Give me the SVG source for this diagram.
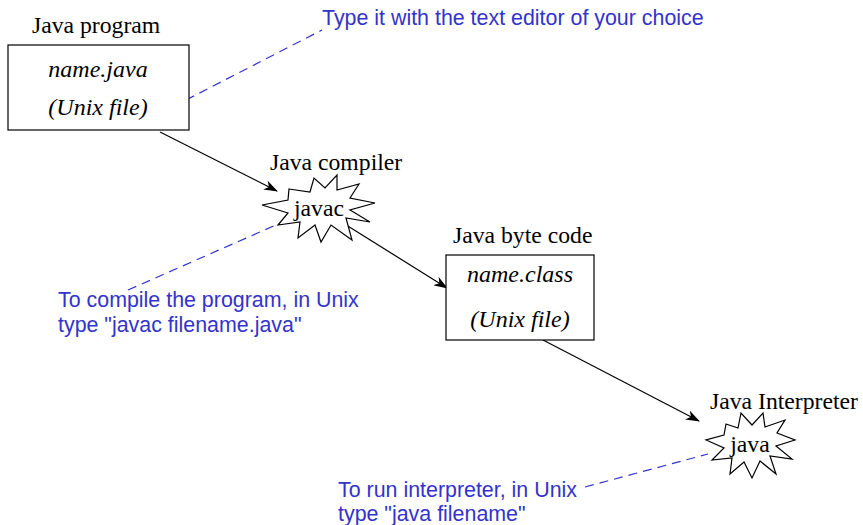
<svg xmlns="http://www.w3.org/2000/svg" width="863" height="525" viewBox="0 0 863 525">
<style>
.lbl{font-family:"Liberation Serif",serif;font-size:23.7px;fill:#000}
.it{font-family:"Liberation Serif",serif;font-size:24px;font-style:italic;fill:#000}
.note{font-family:"Liberation Sans",Arial,sans-serif;font-size:21.4px;fill:#3333cc}
.box{fill:#fff;stroke:#000;stroke-width:1.2}
.star{fill:#fff;stroke:#000;stroke-width:1.2;stroke-linejoin:miter}
.conn{stroke:#000;stroke-width:1.2;fill:none;marker-end:url(#ah)}
.dash{stroke:#3333cc;stroke-width:1.2;stroke-dasharray:9,6;fill:none}
</style>
<defs>
<marker id="ah" markerWidth="14" markerHeight="10" refX="13" refY="5" orient="auto" markerUnits="userSpaceOnUse">
<path d="M0,0 L14,5 L0,10 L4,5 Z" fill="#000"/>
</marker>
</defs>
<g id="connectors">
<line class="conn" x1="160" y1="132" x2="277" y2="191"/>
<line class="conn" x1="343" y1="223" x2="447" y2="288"/>
<line class="conn" x1="543" y1="340" x2="699" y2="421"/>
<line class="dash" x1="186" y1="100" x2="322" y2="30"/>
<line class="dash" x1="128" y1="290" x2="285" y2="221"/>
<line class="dash" x1="585" y1="487" x2="708" y2="454"/>
</g>
<g id="java-program">
<text class="lbl" x="32" y="33">Java program</text>
<rect class="box" x="8" y="45" width="181" height="85"/>
<text class="it" x="98" y="77" text-anchor="middle">name.java</text>
<text class="it" x="98" y="115" text-anchor="middle">(Unix file)</text>
</g>
<g id="javac">
<text class="lbl" x="270" y="170">Java compiler</text>
<path class="star" d="M289,189 L310,192 L314,178 L325,188 L337,175 L337,190 L359,184 L350,198 L375,203 L350,210 L370,222 L346,218 L352,240 L331,225 L321,242 L315,225 L298,238 L300,222 L278,225 L288,213 L262,205 L288,200 Z"/>
<text class="lbl" x="319" y="216" text-anchor="middle">javac</text>
</g>
<g id="byte-code">
<text class="lbl" x="453" y="243">Java byte code</text>
<rect class="box" x="446" y="255" width="148" height="85"/>
<text class="it" x="520" y="282" text-anchor="middle">name.class</text>
<text class="it" x="520" y="327" text-anchor="middle">(Unix file)</text>
</g>
<g id="java">
<text class="lbl" x="710" y="409">Java Interpreter</text>
<path class="star" d="M726,424 L738,428 L741,413 L752,425 L763,413 L765,427 L785,420 L777,433 L795,440 L776,446 L792,459 L770,456 L776,474 L760,461 L752,478 L744,462 L730,474 L732,458 L712,460 L724,448 L706,440 L724,435 Z"/>
<text class="lbl" x="750" y="452" text-anchor="middle">java</text>
</g>
<g id="notes">
<text class="note" x="322" y="25">Type it with the text editor of your choice</text>
<text class="note" x="58" y="307">To compile the program, in Unix</text>
<text class="note" x="58" y="332">type "javac filename.java"</text>
<text class="note" x="338" y="497">To run interpreter, in Unix</text>
<text class="note" x="338" y="521">type "java filename"</text>
</g>
</svg>
